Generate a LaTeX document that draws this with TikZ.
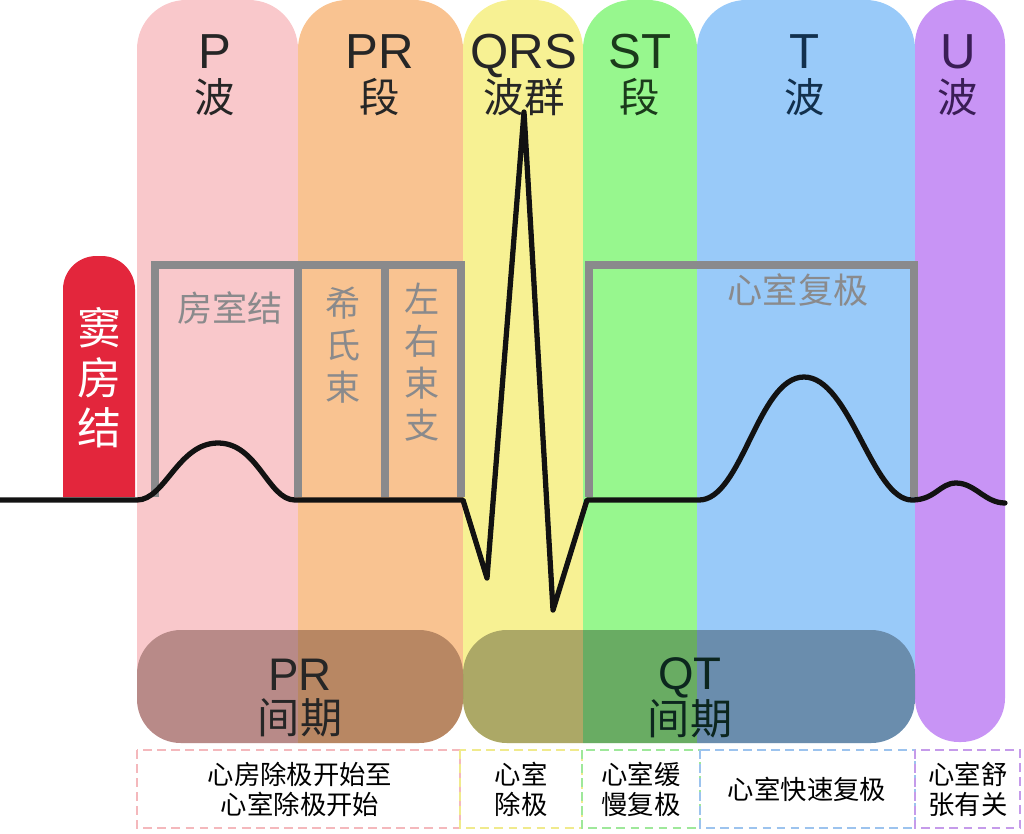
\documentclass[tikz,border=0pt]{standalone}
\usepackage{fontspec}
\setmainfont{Liberation Sans}
\newfontfamily\cjk{Noto Sans CJK SC}
\definecolor{pband}{RGB}{249,200,203}
\definecolor{prband}{RGB}{249,195,145}
\definecolor{qrsband}{RGB}{247,241,147}
\definecolor{stband}{RGB}{151,247,142}
\definecolor{tband}{RGB}{153,202,249}
\definecolor{uband}{RGB}{200,148,245}
\definecolor{sanode}{RGB}{227,38,60}
\definecolor{gline}{RGB}{138,138,140}
\definecolor{prpill}{RGB}{70,30,20}
\definecolor{sttext}{RGB}{27,59,27}
\definecolor{ttext}{RGB}{18,48,77}
\definecolor{utext}{RGB}{58,29,86}
\definecolor{qttext}{RGB}{12,38,30}
\definecolor{pdash}{RGB}{244,184,188}
\definecolor{qrsdash}{RGB}{240,234,140}
\definecolor{stdash}{RGB}{158,232,154}
\definecolor{tdash}{RGB}{156,195,238}
\definecolor{udash}{RGB}{197,155,234}
\begin{document}
\begin{tikzpicture}[x=0.02cm,y=-0.02cm,
    hdr/.style={align=center,inner sep=0pt,font=\fontsize{28}{25}\selectfont},
    glabel/.style={align=center,inner sep=0pt,text=gline,font=\cjk\fontsize{20}{24}\selectfont},
    pilltext/.style={align=center,inner sep=0pt,text=black!85,font=\fontsize{26}{24.5}\selectfont},
    boxtext/.style={align=center,inner sep=0pt,font=\cjk\fontsize{15}{17}\selectfont},
    gbox/.style={gline,line width=4.5pt},
    dbox/.style={line width=1.2pt,dash pattern=on 5pt off 3pt}]
    \useasboundingbox (0,0) rectangle (1024,833);
    %% coloured bands
    \foreach \l/\r/\c in {137/298/pband,298/463/prband,463/583/qrsband,583/697/stband,697/915/tband}
        \fill[\c,rounded corners=28pt] (\l,700) -- (\l,0) -- (\r,0) [sharp corners] -- (\r,700) -- cycle;
    \fill[uband,rounded corners=25pt] (915,0) rectangle (1005,742);
    %% sinoatrial node
    \fill[sanode,rounded corners=19pt] (63,497) -- (63,256) -- (135,256) [sharp corners] -- (135,497) -- cycle;
    \node[align=center,inner sep=0pt,text=white,font=\cjk\fontsize{25}{28.5}\selectfont] (sa) at (99,378) {窦\\房\\结};
    %% headers
    \node[hdr,text=black!85] (hdrP) at (215,75) {P\\{\cjk\fontsize{23}{25}\selectfont 波}};
    \node[hdr,text=black!85] (hdrPR) at (380,75) {PR\\{\cjk\fontsize{23}{25}\selectfont 段}};
    \node[hdr,text=black!85] (hdrQRS) at (524,75) {QRS\\{\cjk\fontsize{23}{25}\selectfont 波群}};
    \node[hdr,text=sttext] (hdrST) at (640,75) {ST\\{\cjk\fontsize{23}{25}\selectfont 段}};
    \node[hdr,text=ttext] (hdrT) at (805,75) {T\\{\cjk\fontsize{23}{25}\selectfont 波}};
    \node[hdr,text=utext] (hdrU) at (958,75) {U\\{\cjk\fontsize{23}{25}\selectfont 波}};
    %% conduction boxes
    \draw[gbox] (155,497) |- (461,265) -- (461,497);
    \draw[gbox] (298,265) -- (298,497);
    \draw[gbox] (385,265) -- (385,497);
    \draw[gbox] (589,497) |- (914,265) -- (914,497);
    \node[glabel] (av) at (230,308) {房室结};
    \node[glabel] (his) at (343,345) {希\\氏\\束};
    \node[glabel] (bundle) at (422,362) {左\\右\\束\\支};
    \node[glabel] (repol) at (798,290) {心室复极};
    %% ecg trace
    \draw[line width=3pt,black!93,line join=round,line cap=round]
        (0,500) -- (137,500) .. controls (165,500) and (178,443) .. (218,443)
        .. controls (258,443) and (268,500) .. (295,500) -- (463,500)
        -- (487,578) -- (524,112) -- (553,610) -- (587,500) -- (699,500)
        .. controls (742,500) and (758,377) .. (804,377)
        .. controls (850,377) and (872,500) .. (912,500)
        .. controls (935,500) and (940,483) .. (956,483)
        .. controls (975,483) and (985,503) .. (1005,503);
    %% intervals
    \begin{scope}
        \clip[rounded corners=25pt] (137,630) rectangle (463,743) (463,630) rectangle (915,743);
        \foreach \l/\r/\c in {137/298/pband,298/463/prband,463/583/qrsband,583/697/stband,697/915/tband}
            \fill[\c] (\l,690) rectangle (\r,745);
    \end{scope}
    \fill[prpill,opacity=0.36,rounded corners=25pt] (137,630) rectangle (463,743);
    \fill[black,opacity=0.3,rounded corners=25pt] (463,630) rectangle (915,743);
    \node[pilltext] (pr) at (300,698) {PR\\{\cjk\fontsize{24}{24.5}\selectfont 间期}};
    \node[pilltext,text=qttext] (qt) at (690,698) {QT\\{\cjk\fontsize{24}{24.5}\selectfont 间期}};
    %% descriptions
    \draw[dbox,pdash] (137,750) rectangle (460,828);
    \draw[dbox,qrsdash] (460,750) rectangle (582,828);
    \draw[dbox,stdash] (582,750) rectangle (700,828);
    \draw[dbox,tdash] (700,750) rectangle (915,828);
    \draw[dbox,udash] (915,750) rectangle (1020,828);
    \node[boxtext] (dP) at (300,789) {心房除极开始至\\心室除极开始};
    \node[boxtext] (dQRS) at (521,789) {心室\\除极};
    \node[boxtext] (dST) at (641,789) {心室缓\\慢复极};
    \node[boxtext] (dT) at (807,789) {心室快速复极};
    \node[boxtext] (dU) at (968,789) {心室舒\\张有关};
\end{tikzpicture}
\end{document}
